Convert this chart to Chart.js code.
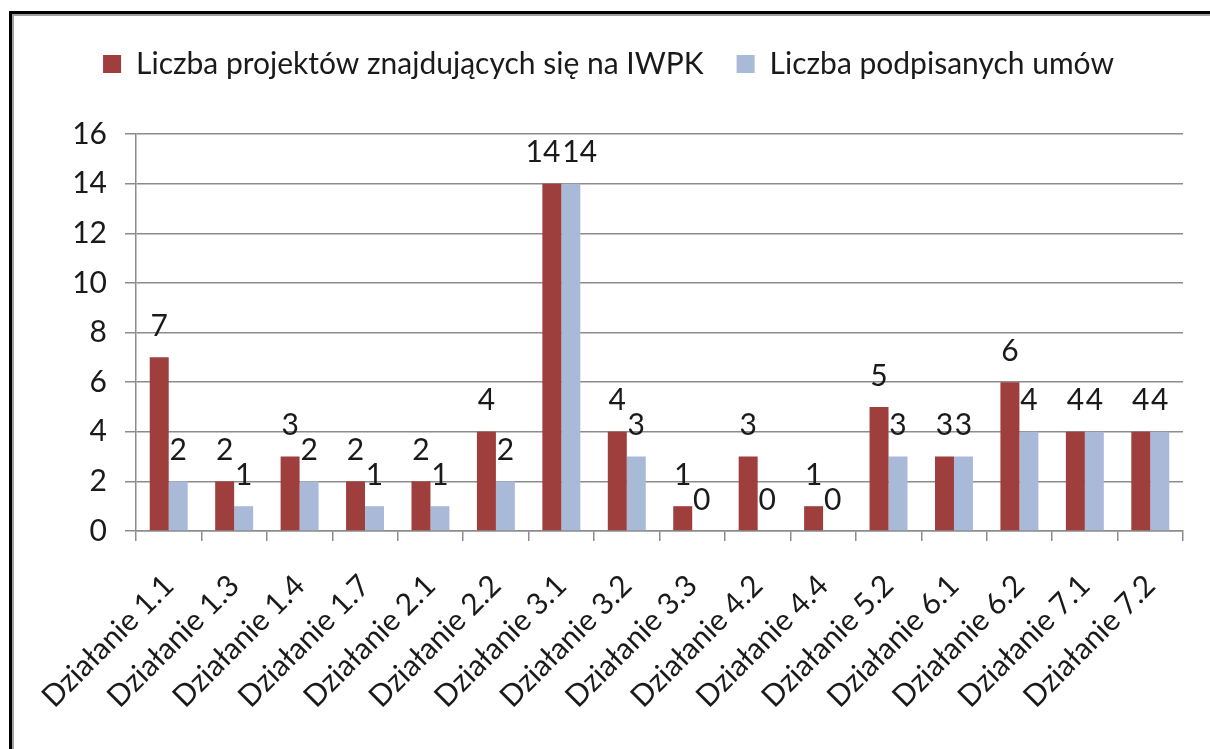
<!DOCTYPE html>
<html>
<head>
<meta charset="utf-8">
<script src="https://cdn.jsdelivr.net/npm/chart.js@4/dist/chart.umd.min.js"></script>
<style>
  body { margin: 0; background: #fff; overflow: hidden; width: 1210px; height: 749px; position: relative; }
  .ramka { position: absolute; left: 9px; top: 11px; width: 1400px; height: 900px;
           border-left: 3px solid #000; border-top: 3px solid #000; }
  .ramka2 { position: absolute; left: 0; top: 0; right: 0; bottom: 0;
            border-left: 2px solid #a0a0a0; border-top: 2px solid #a0a0a0; }
  .wykres { position: absolute; left: 14px; top: 16px; width: 1196px; height: 733px; }
</style>
</head>
<body>
<div class="ramka"><div class="ramka2"></div></div>
<div class="wykres"><canvas id="canvas"></canvas></div>
<script>
/* dane */
const dzialania = ['Działanie 1.1', 'Działanie 1.3', 'Działanie 1.4', 'Działanie 1.7', 'Działanie 2.1',
  'Działanie 2.2', 'Działanie 3.1', 'Działanie 3.2', 'Działanie 3.3', 'Działanie 4.2', 'Działanie 4.4',
  'Działanie 5.2', 'Działanie 6.1', 'Działanie 6.2', 'Działanie 7.1', 'Działanie 7.2'];
const projektyIWPK = [7, 2, 3, 2, 2, 4, 14, 4, 1, 3, 1, 5, 3, 6, 4, 4];
const podpisaneUmowy = [2, 1, 2, 1, 1, 2, 14, 3, 0, 0, 0, 3, 3, 4, 4, 4];
const osY = [0, 2, 4, 6, 8, 10, 12, 14, 16];

const czcionka = 'Lato, "Open Sans", sans-serif';

/* etykiety nad slupkami */
const etykiety = {
  id: 'etykiety',
  afterDatasetsDraw(chart) {
    const ctx = chart.ctx;
    ctx.save();
    ctx.font = '30px ' + czcionka;
    ctx.fillStyle = '#1a1a1a';
    ctx.textAlign = 'center';
    ctx.textBaseline = 'middle';
    chart.data.datasets.forEach(function(ds, i) {
      chart.getDatasetMeta(i).data.forEach(function(bar, j) {
        const txt = String(ds.data[j]);
        const nadmiar = Math.max(0, ctx.measureText(txt).width - bar.width) / 2 + 1;
        const dx = i === 0 ? -nadmiar : nadmiar;
        ctx.fillText(txt, bar.x + (txt.length > 1 ? dx : 0), bar.y - 31);
      });
    });
    ctx.restore();
  }
};

/* legenda troche wyzsza */
const legendaOdstep = {
  id: 'legendaOdstep',
  beforeLayout(chart) {
    const lg = chart.legend;
    if (lg && !lg._poprawiona) {
      const f = lg.fit;
      lg.fit = function() { f.call(this); this.height += 45; };
      lg._poprawiona = true;
    }
  }
};

const ctx = document.getElementById('canvas');
new Chart(ctx, {
  type: 'bar',
  data: {
    labels: dzialania,
    datasets: [{
      label: 'Liczba projektów znajdujących się na IWPK',
      data: projektyIWPK,
      backgroundColor: '#9e3f3d',
      borderWidth: 0
    },
    {
      label: 'Liczba podpisanych umów',
      data: podpisaneUmowy,
      backgroundColor: '#a9bad8',
      borderWidth: 0
    }]
  },
  options: {
    responsive: true,
    maintainAspectRatio: false,
    animation: false,
    layout: { padding: { top: 0, right: 27, bottom: 0, left: 20 } },
    datasets: { bar: { barPercentage: 1, categoryPercentage: 0.58 } },
    plugins: {
      legend: {
        position: 'top',
        labels: {
          boxWidth: 18, boxHeight: 18, padding: 33,
          color: '#1a1a1a',
          font: { family: czcionka, size: 30 }
        }
      },
      tooltip: { enabled: false }
    },
    scales: {
      y: {
        min: 0, max: 16,
        afterBuildTicks(scale) { scale.ticks = osY.map(v => ({ value: v })); },
        afterFit(scale) { scale.width = 102; },
        ticks: { color: '#1a1a1a', padding: 18, font: { family: czcionka, size: 30 } },
        grid: { color: '#8c8c8c', lineWidth: 1.5, tickLength: 11 },
        border: { color: '#8c8c8c', width: 1.5 }
      },
      x: {
        afterFit(scale) { scale.height = 218; scale.paddingLeft = 0; scale.paddingRight = 0; },
        ticks: { color: '#1a1a1a', minRotation: 45, maxRotation: 45, padding: 27,
                 font: { family: czcionka, size: 30 } },
        grid: { drawOnChartArea: false, color: '#8c8c8c', lineWidth: 1.5, tickLength: 10, offset: true },
        border: { color: '#8c8c8c', width: 1.5 }
      }
    }
  },
  plugins: [etykiety, legendaOdstep]
});
</script>
</body>
</html>
